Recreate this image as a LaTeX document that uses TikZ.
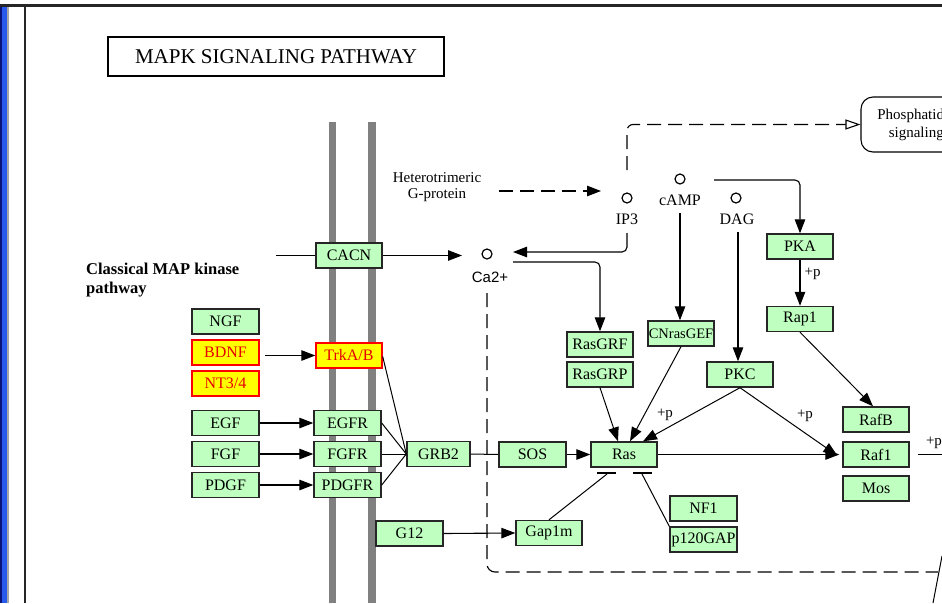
\documentclass[tikz,border=0pt]{standalone}
\usepackage{fontspec}
\setmainfont{Liberation Serif}
\newfontfamily\sansf{Liberation Sans}
\usetikzlibrary{arrows.meta}
\definecolor{kgreen}{RGB}{191,255,191}
\definecolor{kyellow}{RGB}{255,255,0}
\definecolor{kred}{RGB}{230,0,0}
\definecolor{navy}{RGB}{10,20,120}
\definecolor{sblue}{RGB}{40,90,235}
\definecolor{mgray}{RGB}{128,128,128}
\begin{document}
\begin{tikzpicture}[x=1pt,y=-1pt,
  gbox/.style={draw=black!85,line width=1.4pt,fill=kgreen,minimum width=66pt,minimum height=25pt,inner sep=0pt,font=\fontsize{16}{18}\selectfont},
  ybox/.style={gbox,draw=red,fill=kyellow,text=kred},
  arr/.style={-{Triangle[length=14pt,width=10.5pt]},line width=1.1pt},
  ln/.style={line width=1pt},
  dsh/.style={dash pattern=on 14pt off 7pt,line width=1.1pt},
  circ/.style={circle,draw,line width=1.2pt,minimum size=10pt,inner sep=0pt},
  lbl/.style={font=\fontsize{16}{18}\selectfont,inner sep=0pt},
  plbl/.style={font=\fontsize{15}{17}\selectfont,inner sep=0pt},
]
\useasboundingbox (0,0) rectangle (942,603);
\clip (0,0) rectangle (942,603);
\fill[white] (0,0) rectangle (942,603);
% frame
\fill[navy] (0,6) rectangle (2,603);
\fill[sblue] (2,6) rectangle (7,603);
\fill[mgray!70] (7,6) rectangle (9,603);
\fill[black!85] (0,4) rectangle (942,6.5);
\fill[black!85] (24,6) rectangle (26,603);
% membrane
\fill[mgray] (329,122) rectangle (336,603);
\fill[mgray] (368,122) rectangle (376,603);
% title
\node[draw,line width=2pt,minimum width=336pt,minimum height=39pt,font=\fontsize{21}{23}\selectfont] (title) at (276,56.5) {MAPK SIGNALING PATHWAY};
% labels
\node[align=center,font=\fontsize{15}{16}\selectfont,inner sep=0pt] (hetero) at (437,187) {Heterotrimeric\\G-protein};
\node[align=left,anchor=west,font=\fontsize{16.5}{19}\selectfont\bfseries,inner sep=0pt] (classical) at (86,280.5) {Classical MAP kinase\\pathway};
% phosphatidylinositol
\node[draw,rounded corners=12pt,line width=1.1pt,minimum width=156pt,minimum height=55pt,align=center,font=\fontsize{15}{18}\selectfont] (phos) at (939,124.5) {Phosphatidylinositol\\signaling system};
% small molecules
\node[circ] (ip3) at (627,198) {};
\node[lbl] (ip3l) at (627,219) {IP3};
\node[circ] (camp) at (680,179) {};
\node[lbl] (campl) at (680,200) {cAMP};
\node[circ] (dag) at (736,198) {};
\node[lbl] (dagl) at (737,219) {DAG};
\node[circ] (ca) at (487,254) {};
\node[font=\sansf\fontsize{15}{17}\selectfont,inner sep=0pt] (cal) at (490,277) {Ca2+};
% boxes
\node[gbox] (CACN) at (349,255.5) {CACN};
\node[gbox,minimum width=67pt] (NGF) at (225.5,321.5) {NGF};
\node[ybox,minimum width=67pt] (BDNF) at (225.5,352.5) {BDNF};
\node[ybox,minimum width=67pt] (NT34) at (225.5,383.5) {NT3/4};
\node[gbox,minimum width=67pt] (EGF) at (225.5,423) {EGF};
\node[gbox,minimum width=67pt] (FGF) at (225.5,454) {FGF};
\node[gbox,minimum width=67pt] (PDGF) at (225.5,485) {PDGF};
\node[ybox] (TrkAB) at (349,355.5) {TrkA/B};
\node[gbox,minimum width=67pt] (EGFR) at (347.5,423) {EGFR};
\node[gbox,minimum width=67pt] (FGFR) at (347.5,454) {FGFR};
\node[gbox,minimum width=67pt] (PDGFR) at (347.5,485) {PDGFR};
\node[gbox,minimum width=63pt] (GRB2) at (438.5,454) {GRB2};
\node[gbox,minimum width=67pt] (G12) at (409.5,533.5) {G12};
\node[gbox,minimum width=67pt] (SOS) at (532.5,454.5) {SOS};
\node[gbox] (Ras) at (624,454.5) {Ras};
\node[gbox] (Gap1m) at (549,533) {Gap1m};
\node[gbox,minimum width=67pt] (NF1) at (703.5,508.5) {NF1};
\node[gbox,minimum width=67pt] (p120GAP) at (703.5,539.5) {p120GAP};
\node[gbox] (RasGRF) at (600,344.5) {RasGRF};
\node[gbox] (RasGRP) at (600,374.5) {RasGRP};
\node[gbox,font=\fontsize{14.5}{16}\selectfont] (CNrasGEF) at (681,333.5) {CNrasGEF};
\node[gbox] (PKC) at (740,374.5) {PKC};
\node[gbox] (PKA) at (800,246.5) {PKA};
\node[gbox] (Rap1) at (800,319) {Rap1};
\node[gbox] (RafB) at (876,419.5) {RafB};
\node[gbox] (Raf1) at (876,454.5) {Raf1};
\node[gbox] (Mos) at (876,488.5) {Mos};
% coordinates for free ends
\coordinate (cacnL) at (276,255.5);
\coordinate (caIn) at (462,255.5);
\coordinate (hA) at (499,191);
\coordinate (hB) at (601,191);
\coordinate (ip3T) at (627,170);
\coordinate (ip3B) at (627,233);
\coordinate (caR) at (513,252);
\coordinate (caR2) at (513,262);
\coordinate (campR) at (714,180);
\coordinate (campB) at (680,213);
\coordinate (dagB) at (738,232);
\coordinate (bdnfR) at (265,355.5);
\coordinate (rafOut) at (942,454.5);
\coordinate (caD) at (487,293);
\coordinate (tb1a) at (597,473);
\coordinate (tb1b) at (616,473);
\coordinate (tb2a) at (633,473);
\coordinate (tb2b) at (652,473);
\coordinate (gapEnd) at (607,474);
\coordinate (p120End) at (642,474);
% connectors
\draw[ln] (cacnL) -- (CACN.west);
\draw[arr] (CACN.east) -- (caIn);
\draw[arr,dsh] (hA) -- (hB);
\draw[dsh,-{Triangle[open,length=15pt,width=10pt]},rounded corners=6pt] (ip3T) |- (phos.west);
\draw[arr,rounded corners=5pt] (ip3B) |- (caR);
\draw[arr,rounded corners=5pt] (caR2) -| (RasGRF.north);
\draw[arr,rounded corners=5pt] (campR) -| (PKA.north);
\draw[arr] (campB) -- (campB |- CNrasGEF.north);
\draw[arr] (dagB) -- (dagB |- PKC.north);
\draw[arr] (PKA.south) -- node[pos=0.3,right=4pt,plbl] {+p} (Rap1.north);
\draw[arr,line width=1pt] (Rap1.south) -- ([xshift=-3pt]RafB.north);
\draw[arr,line width=1pt] (RasGRP.south) -- ([xshift=-6pt]Ras.north);
\draw[arr,line width=1pt] (CNrasGEF.south) -- ([xshift=6pt]Ras.north);
\draw[arr,line width=1pt] (PKC.south) -- ([xshift=19pt]Ras.north);
\node[plbl] (p1) at (665,415) {+p};
\draw[arr,line width=1pt] (PKC.south) -- ([xshift=-5pt,yshift=-1pt]Raf1.west);
\node[plbl] (p2) at (805,416) {+p};
\draw[arr] (Ras.east) -- ([xshift=-3pt]Raf1.west);
\draw[arr] (SOS.east) -- (Ras.west);
\draw[ln] (GRB2.east) -- (SOS.west);
\draw[arr] (bdnfR) -- (TrkAB.west);
\draw[arr] (EGF.east) -- (EGFR.west);
\draw[arr] (FGF.east) -- (FGFR.west);
\draw[arr] (PDGF.east) -- (PDGFR.west);
\draw[ln] ([yshift=-1pt]TrkAB.east) -- (GRB2.west);
\draw[ln] (EGFR.east) -- (GRB2.west);
\draw[ln] (FGFR.east) -- (GRB2.west);
\draw[ln] (PDGFR.east) -- (GRB2.west);
\draw[arr] (G12.east) -- (Gap1m.west);
\draw[line width=1.3pt] (tb1a) -- (tb1b);
\draw[line width=1.3pt] (tb2a) -- (tb2b);
\draw[ln] (Gap1m.north) -- (gapEnd);
\draw[ln] (p120GAP.north west) -- (p120End);
\draw[ln] ([xshift=8pt]Raf1.east) -- (rafOut);
\node[plbl] (p3) at (934,443) {+p};
\draw[dsh,rounded corners=8pt] (caD) -- (487,572) -- (938,572);
\draw[ln] (942,556) -- (933,603);
\end{tikzpicture}
\end{document}
